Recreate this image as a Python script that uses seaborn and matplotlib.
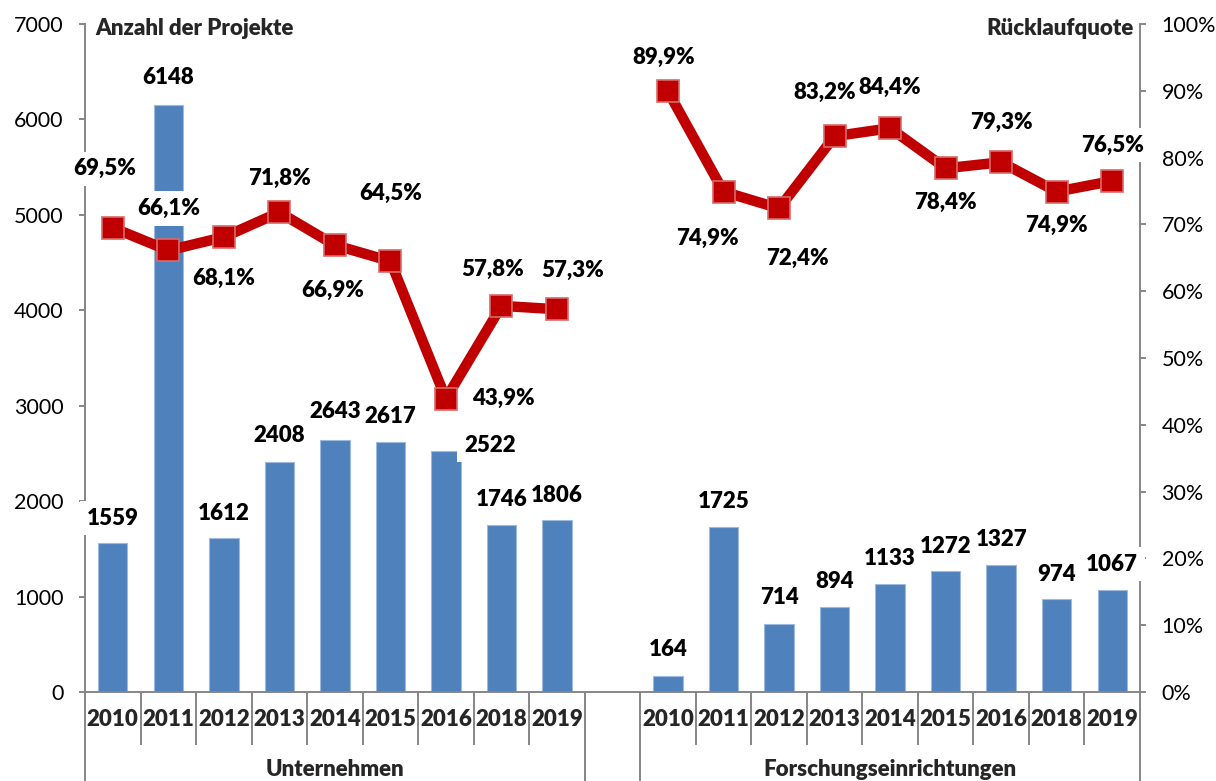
import matplotlib
matplotlib.use("Agg")
import matplotlib.pyplot as plt
import matplotlib.transforms as mtransforms
import numpy as np
import pandas as pd
import seaborn as sns

# --- data -------------------------------------------------------------
years = ["2010", "2011", "2012", "2013", "2014", "2015", "2016", "2018", "2019"]
groups = ["Unternehmen", "Forschungseinrichtungen"]

projekte_unternehmen = [1559, 6148, 1612, 2408, 2643, 2617, 2522, 1746, 1806]
projekte_forschung = [164, 1725, 714, 894, 1133, 1272, 1327, 974, 1067]

quote_unternehmen = [69.5, 66.1, 68.1, 71.8, 66.9, 64.5, 43.9, 57.8, 57.3]
quote_forschung = [89.9, 74.9, 72.4, 83.2, 84.4, 78.4, 79.3, 74.9, 76.5]

left_ticks = [0, 1000, 2000, 3000, 4000, 5000, 6000, 7000]
right_ticks = [0, 10, 20, 30, 40, 50, 60, 70, 80, 90, 100]

# label nudges in pixels (dx, dy; positive dy = upwards)
bar_label_shift = [(0, 25), (0, 28), (0, 25), (0, 27), (0, 28), (0, 26), (44, 6), (0, 26), (0, 24),
                   (0, 27), (0, 26), (0, 26), (0, 25), (0, 25), (0, 24), (0, 26), (0, 25), (0, 26)]
pct_label_shift = [(-8, 59), (0, 42), (0, -41), (0, 34), (-2, -45), (0, 68), (57, 0), (-9, 36), (16, 39),
                   (-4, 34), (-16, -47), (18, -50), (-10, 44), (0, 41), (0, -34), (0, 40), (0, -34), (0, 36)]

# --- table ------------------------------------------------------------
slot = len(years) + 1
rows = []
for g, (proj, quote) in enumerate([(projekte_unternehmen, quote_unternehmen),
                                   (projekte_forschung, quote_forschung)]):
    for i, y in enumerate(years):
        rows.append({"gruppe": groups[g], "jahr": y, "pos": g * slot + i,
                     "projekte": proj[i], "quote": quote[i]})
df = pd.DataFrame(rows)

# --- style ------------------------------------------------------------
sns.set_style("white")
plt.rcParams["font.family"] = ["Lato", "DejaVu Sans"]
GRAY = "#868686"
BLUE = "#4F81BD"
RED = "#C00000"
FS_TICK = 15.5
FS_LAB = 16
WEIGHT = "heavy"

W, H = 1216, 781
fig = plt.figure(figsize=(W / 100, H / 100), dpi=100)
ax = fig.add_axes([85 / W, 89 / H, 1055 / W, 668 / H])

sns.barplot(data=df, x="pos", y="projekte", native_scale=True, width=0.53,
            color=BLUE, saturation=1, edgecolor="#9DB9DC", linewidth=0.8,
            errorbar=None, ax=ax, zorder=2)

ax.set_xlim(-0.5, 2 * slot - 1.5)
ax.set_ylim(0, 7000)
ax.set_yticks(left_ticks)
ax.set_yticklabels([str(t) for t in left_ticks], fontsize=FS_TICK)
ax.set_xticks([])
ax.set_xlabel("")
ax.set_ylabel("")
for s in ["top", "right"]:
    ax.spines[s].set_visible(False)
for s in ["left", "bottom"]:
    ax.spines[s].set_color(GRAY)
    ax.spines[s].set_linewidth(1.4)
ax.tick_params(axis="y", direction="out", length=4.5, width=1.4, color=GRAY,
               pad=11, labelcolor="black", left=True)

ax2 = ax.twinx()
sns.lineplot(data=df, x="pos", y="quote", units="gruppe", estimator=None,
             color=RED, linewidth=7.5, marker="s", markersize=16,
             markeredgecolor="#D86A6A", markeredgewidth=1.2, ax=ax2, zorder=4)
ax2.set_ylim(0, 100)
ax2.set_xlim(-0.5, 2 * slot - 1.5)
ax2.set_yticks(right_ticks)
ax2.set_yticklabels([f"{t}%" for t in right_ticks], fontsize=FS_TICK)
ax2.set_xlabel("")
ax2.set_ylabel("")
for s in ["top", "left", "bottom"]:
    ax2.spines[s].set_visible(False)
ax2.spines["right"].set_color(GRAY)
ax2.spines["right"].set_linewidth(1.4)
ax2.tick_params(axis="y", direction="out", length=4.5, width=1.4, color=GRAY,
                pad=11, labelcolor="black", right=True)

box = dict(boxstyle="square,pad=0.3", fc="white", ec="none")


def value_label(text, xy, xycoords, shift):
    """White backing box underneath, the text itself on top of every box."""
    dx, dy = shift
    common = dict(xy=xy, xycoords=xycoords, xytext=(dx * 0.72, dy * 0.72),
                  textcoords="offset points", ha="center", va="center",
                  fontsize=FS_LAB, fontweight=WEIGHT, annotation_clip=False)
    ax2.annotate(text, color="white", bbox=box, zorder=5, **common)
    ax2.annotate(text, color="black", zorder=7, **common)


# value labels for the bars
for k, row in df.iterrows():
    value_label(str(row["projekte"]), (row["pos"], row["projekte"]),
                ax.transData, bar_label_shift[k])

# value labels for the response rate
for k, row in df.iterrows():
    txt = f"{row['quote']:.1f}%".replace(".", ",")
    value_label(txt, (row["pos"], row["quote"]), "data", pct_label_shift[k])

# axis titles
ax2.text(0.0095, 0.994, "Anzahl der Projekte", transform=ax2.transAxes,
         ha="left", va="center", fontsize=FS_LAB, fontweight=WEIGHT, zorder=6)
ax2.text(0.9935, 0.994, "Rücklaufquote", transform=ax2.transAxes,
         ha="right", va="center", fontsize=FS_LAB, fontweight=WEIGHT, zorder=6)

# two-level category axis
trans = mtransforms.blended_transform_factory(ax.transData, ax.transAxes)
px = 1 / 668
for g in range(len(groups)):
    start = g * slot
    edges = [start - 0.5 + i for i in range(len(years) + 1)]
    for j, e in enumerate(edges):
        outer = j in (0, len(years))
        ax.plot([e, e], [0, -89 * px if outer else -53 * px], transform=trans,
                color=GRAY, lw=1.4, clip_on=False, solid_capstyle="butt")
    for i, y in enumerate(years):
        ax.text(start + i, -28 * px, y, transform=trans, ha="center", va="center",
                fontsize=FS_LAB, fontweight=WEIGHT)
    ax.text(start + (len(years) - 1) / 2, -78 * px, groups[g], transform=trans,
            ha="center", va="center", fontsize=FS_LAB, fontweight=WEIGHT)

fig.savefig("out.png", dpi=100)
